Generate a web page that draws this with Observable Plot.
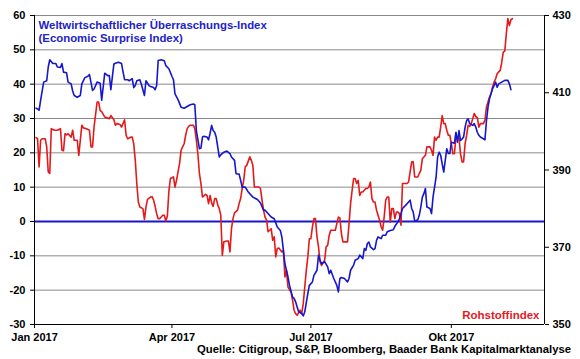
<!DOCTYPE html>
<html><head><meta charset="utf-8">
<script src="https://cdn.jsdelivr.net/npm/d3@7"></script>
<script src="https://cdn.jsdelivr.net/npm/@observablehq/plot@0.6"></script>
<style>
body{margin:0;background:#fff;font-family:"Liberation Sans",Arial,sans-serif;}
#wrap{position:relative;width:580px;height:359px;overflow:hidden;}
#src{position:absolute;left:0;top:343px;width:571px;text-align:right;font-weight:bold;font-size:11.3px;color:#000;white-space:nowrap;}
</style></head>
<body><div id="wrap"><div id="chart"></div><div id="src"></div></div>
<script>
// Economic Surprise Index (left axis), day offset from 1 Jan 2017
const surpriseDay = [1,2,3,4,6,8,9,10,12,14,15,17,18,19,21,22,24,25,26,28,30,31,33,35,36,38,39,41,43,44,46,48,49,50,52,53,55,57,58,59,61,62,64,65,66,67,69,70,72,73,75,76,78,79,80,81,83,85,86,88,90,91,92,94,96,98,100,102,104,105,106,108,109,110,111,113,114,115,116,117,118,119,121,122,124,126,128,129,131,132,134,135,136,138,140,143,146,148,150,151,155,157,159,161,162,163,164,166,167,169,170,171,172,173,175,176,177,179,180,182,183,185,186,187,188,190,192,193,194,196,198,199,200,201,203,205,206,207,209,210,212,213,215,216,217,218,219,220,222,223,224,225,227,228,230,231,233,235,236,238,239,240,241,243,245,246,247,248,249,251,252,253,254,255,256,257,259,260,261,263,264,265,266,267,268,270,271,272,273,275,276,277,278,279,280,281,282,283,284,285,287,288,289,290,291,292,294,295,296,297,298,299,300,301,302,303,304,306,308,310,311,312];
const surpriseValue = [33.0,32.8,32.4,35.3,40.6,41.0,45.0,47.1,46.0,46.0,45.0,44.9,46.0,43.5,43.3,40.6,40.1,38.0,36.7,36.2,36.7,40.1,41.9,42.3,42.8,38.2,38.6,40.6,40.3,35.3,43.2,42.5,42.5,38.4,45.9,46.1,46.4,46.0,43.6,41.3,41.3,41.0,41.6,39.0,39.6,41.0,41.3,40.0,36.7,41.0,39.6,39.3,39.0,38.4,39.6,46.9,47.1,46.8,45.4,44.5,42.3,41.3,37.2,35.5,33.3,33.0,33.5,34.0,34.2,34.0,26.5,21.2,21.4,24.6,24.8,24.6,23.8,25.7,28.0,26.5,26.0,24.6,18.8,19.4,20.2,20.5,19.8,18.8,17.8,13.9,13.8,12.0,10.0,10.0,8.6,7.1,6.4,5.4,3.3,3.3,1.3,0.8,-1.6,-2.6,-4.5,-8.4,-12.3,-16.1,-18.6,-22.0,-22.4,-23.4,-24.9,-26.3,-26.8,-27.5,-26.3,-21.0,-18.6,-17.6,-15.7,-14.2,-9.8,-11.3,-12.3,-11.7,-13.2,-15.2,-14.2,-16.6,-18.6,-20.5,-16.6,-16.3,-16.6,-17.6,-16.6,-14.2,-12.7,-11.3,-10.8,-9.8,-10.8,-7.9,-8.4,-6.4,-6.0,-7.4,-8.2,-7.9,-5.5,-4.5,-5.0,-4.0,-4.0,-3.0,-2.6,-2.4,-1.4,-0.1,0.8,2.3,3.8,4.7,5.7,6.2,3.8,2.8,0.1,0.5,1.8,4.2,7.1,8.1,9.6,4.2,3.8,2.3,7.1,12.9,18.8,20.2,19.3,16.8,14.4,21.2,19.8,19.8,23.1,22.8,26.0,23.1,26.5,23.6,24.0,24.6,27.5,29.4,29.9,28.5,28.0,28.5,27.5,26.0,25.1,24.6,24.1,23.8,29.4,33.3,35.8,37.2,38.7,39.6,40.6,39.1,40.1,40.6,41.1,41.1,40.1,38.4];

// Rohstoffindex (right axis), day offset from 1 Jan 2017
const commodityDay = [1,2,3,4,5,7,8,9,10,11,13,15,17,18,19,20,21,22,24,25,26,28,29,31,32,34,36,37,38,39,41,42,43,44,46,49,50,52,53,54,56,57,59,60,61,63,64,65,66,67,68,69,71,72,73,74,76,77,78,79,80,81,82,84,85,86,87,88,89,91,92,93,94,95,96,97,98,99,100,101,102,104,105,106,107,108,109,110,112,113,114,115,116,117,118,119,120,121,122,123,124,126,127,128,129,130,131,133,134,135,136,137,138,139,141,142,143,144,145,147,148,149,150,151,152,153,155,156,157,158,159,160,162,163,164,165,166,168,169,170,171,172,174,175,176,177,178,179,180,181,182,183,184,185,186,187,188,190,191,192,193,194,196,197,198,199,200,201,202,205,206,207,208,209,210,211,212,213,214,215,217,218,219,220,221,222,223,224,226,227,228,229,230,231,232,233,234,235,236,237,238,239,240,241,244,245,246,247,248,249,251,252,253,254,256,257,259,260,261,262,263,264,265,266,267,268,269,270,271,272,273,274,275,276,277,278,279,280,281,282,283,284,285,286,287,288,289,290,291,292,294,295,296,297,298,299,300,301,302,303,304,305,306,307,308,309,310,311,312,313];
const commodityValue = [398.4,398.1,390.8,397.7,398.1,398.1,396.0,389.5,389.1,400.7,400.3,400.3,400.7,395.1,395.0,399.4,399.1,399.4,398.5,400.3,397.7,397.7,393.8,401.6,400.9,400.7,400.3,396.0,396.0,401.1,407.6,407.6,405.4,405.1,403.7,403.3,404.1,403.0,401.6,402.0,401.8,401.1,403.0,399.0,398.1,398.5,398.5,396.8,392.5,386.5,381.7,380.4,380.0,377.2,380.4,382.4,383.0,383.1,382.2,380.6,378.7,377.4,377.4,378.3,378.3,376.8,378.0,384.5,387.8,388.2,385.6,387.3,389.5,391.7,395.1,396.0,396.8,399.0,400.7,401.3,401.6,401.6,400.7,397.7,394.2,389.1,386.5,383.0,383.7,383.4,381.3,383.4,381.5,380.6,382.6,382.6,381.0,380.0,378.3,367.9,371.4,371.6,371.6,368.8,374.8,377.4,378.9,379.6,381.3,382.6,385.2,387.3,390.8,391.2,393.4,392.5,391.2,385.6,385.6,385.6,385.2,382.2,379.6,377.8,377.0,374.0,374.8,371.8,372.7,367.5,369.7,369.8,368.8,369.2,362.3,364.0,359.7,358.4,356.3,353.7,352.8,352.4,353.7,352.8,355.4,359.7,364.0,367.5,372.2,372.2,375.3,377.4,377.4,372.7,370.1,366.2,365.3,366.6,370.1,370.5,373.1,374.4,374.4,374.4,376.1,377.8,377.6,373.5,371.4,371.4,376.1,381.3,384.7,387.8,387.8,386.5,387.3,383.4,384.3,384.3,385.2,385.2,385.6,386.9,382.6,381.7,381.7,379.6,377.0,375.3,374.4,377.8,382.2,383.0,383.0,376.5,380.0,380.0,377.4,379.1,379.1,378.7,375.7,386.5,386.5,386.9,389.5,392.1,392.1,388.2,388.2,389.1,389.9,392.9,393.8,396.0,396.0,395.1,393.8,398.5,397.7,398.5,398.5,401.1,404.1,402.0,402.0,400.3,399.0,399.0,396.8,394.2,394.2,398.5,398.2,398.3,394.2,392.1,392.1,396.8,399.0,401.6,401.3,402.0,403.3,404.6,403.8,403.6,401.1,402.0,402.0,402.9,406.3,407.6,408.9,409.8,411.5,412.8,413.6,414.9,415.4,415.8,417.9,420.5,420.8,425.3,429.2,427.4,428.9,429.2];

const leftTicks = [-30,-20,-10,0,10,20,30,40,50,60];
const rightTicks = [350,370,390,410,430];
const monthTicks = ["2017-01-01","2017-04-01","2017-07-01","2017-10-01"];
const monthLabels = ["Jan 2017","Apr 2017","Jul 2017","Okt 2017"];
const seriesTitle = ["Weltwirtschaftlicher Überraschungs-Index","(Economic Surprise Index)"];
const commodityLabel = "Rohstoffindex";
const sourceText = "Quelle: Citigroup, S&P, Bloomberg, Baader Bank Kapitalmarktanalyse";

const start = new Date(Date.UTC(2017,0,1));
const end = new Date(Date.UTC(2017,11,1));
const dayToDate = d => d3.utcDay.offset(start, d);
// right axis (350..430) mapped onto left axis (-30..60)
const toLeft = r => (r - 350) * 90 / 80 - 30;
const toRight = v => (v + 30) * 80 / 90 + 350;

const surprise = surpriseDay.map((d, i) => ({date: dayToDate(d), value: surpriseValue[i]}));
const commodity = commodityDay.map((d, i) => ({date: dayToDate(d), value: toLeft(commodityValue[i])}));
const monthMap = new Map(monthTicks.map((t, i) => [+new Date(t), monthLabels[i]]));

const blue = "#1616cc";
const red = "#e31a1c";

const chart = Plot.plot({
  width: 580, height: 342,
  marginLeft: 34, marginRight: 36, marginTop: 15, marginBottom: 18,
  style: {fontFamily: "'Liberation Sans', Arial, sans-serif", fontSize: "11px", fontWeight: "bold", color: "#000", background: "#fff", overflow: "visible"},
  x: {type: "utc", domain: [start, end]},
  y: {domain: [-30, 60]},
  marks: [
    Plot.ruleY(leftTicks.filter(t => t !== 0 && t !== -30), {stroke: "#8a8a8a", strokeWidth: 1}),
    Plot.ruleY([0], {stroke: blue, strokeWidth: 2}),
    Plot.ruleY([-30], {stroke: "#000", strokeWidth: 1}),
    Plot.ruleX([start], {stroke: "#000", strokeWidth: 1}),
    Plot.ruleX([end], {stroke: "#000", strokeWidth: 1}),
    Plot.axisY({anchor: "left", ticks: leftTicks, tickSize: 4, tickPadding: 5, tickFormat: d => String(d), label: null, fontWeight: "bold"}),
    Plot.axisY({anchor: "right", ticks: rightTicks.map(toLeft), tickSize: 4, tickPadding: 4, tickFormat: d => String(Math.round(toRight(d))), label: null, fontWeight: "bold"}),
    Plot.axisX({ticks: monthTicks.map(t => new Date(t)), tickSize: 4, tickPadding: 5, tickFormat: d => monthMap.get(+d), label: null, fontWeight: "bold"}),
    Plot.line(commodity, {x: "date", y: "value", stroke: red, strokeWidth: 1.6}),
    Plot.line(surprise, {x: "date", y: "value", stroke: blue, strokeWidth: 1.6}),
    Plot.text([seriesTitle.join("\n")], {frameAnchor: "top-left", dx: 4, dy: 4, lineAnchor: "top", lineHeight: 1.15, fill: "#2222c8", fontSize: 11.4, fontWeight: "bold", textAnchor: "start"}),
    Plot.text([commodityLabel], {frameAnchor: "bottom-right", dx: -5, dy: -6, lineAnchor: "bottom", fill: red, fontSize: 11.5, fontWeight: "bold", textAnchor: "end"})
  ]
});
document.getElementById("chart").appendChild(chart);
document.getElementById("src").textContent = sourceText;
</script>
</body></html>
